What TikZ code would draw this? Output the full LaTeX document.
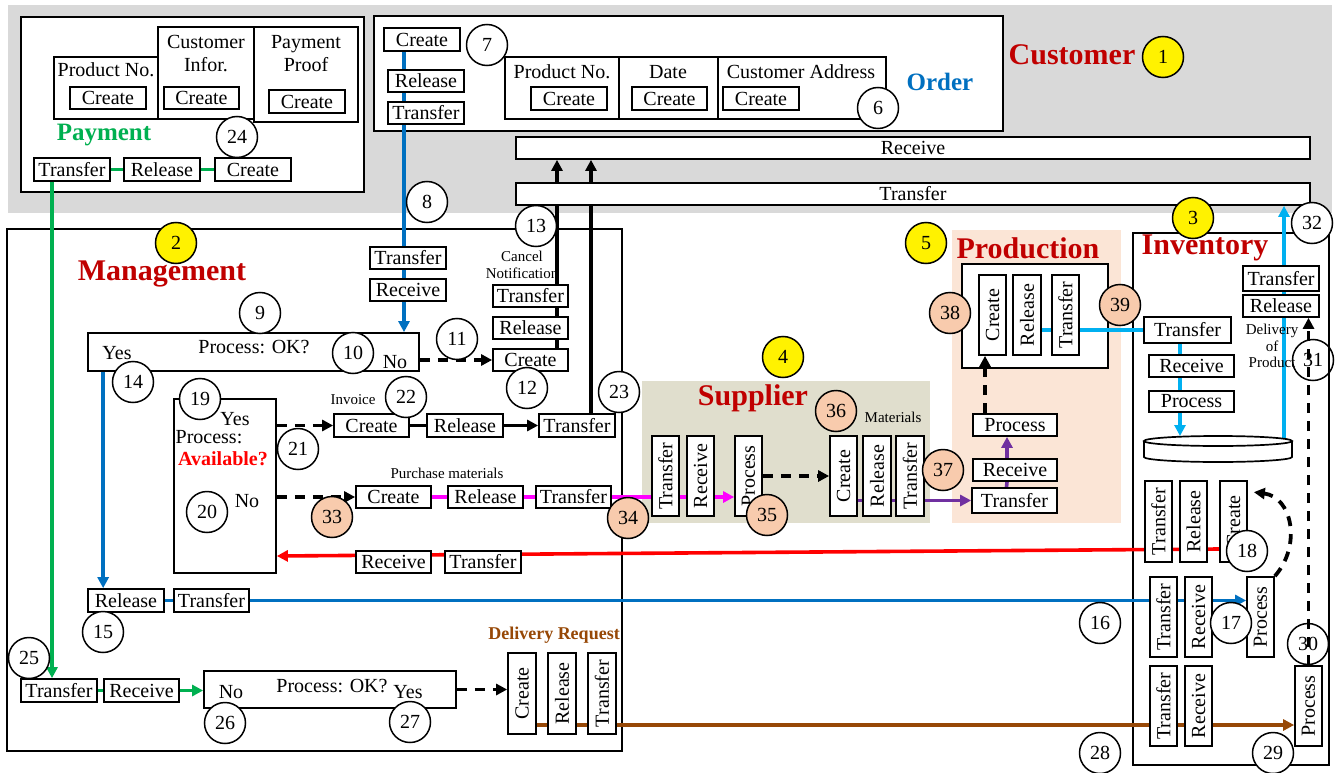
\documentclass[tikz,border=0pt]{standalone}
\usepackage{fontspec}
\setmainfont{Liberation Serif}
\usepackage{graphicx}
\usetikzlibrary{arrows.meta,calc}
\pgfdeclarelayer{bg}
\pgfdeclarelayer{lines}
\pgfsetlayers{bg,lines,main}
\definecolor{tred}{RGB}{192,0,0}
\definecolor{cgreen}{RGB}{0,176,80}
\definecolor{cblue}{RGB}{0,112,192}
\definecolor{ccyan}{RGB}{0,176,240}
\definecolor{cmag}{RGB}{255,0,255}
\definecolor{cpurple}{RGB}{112,48,160}
\definecolor{cbrown}{RGB}{151,72,6}
\definecolor{gbg}{RGB}{217,217,217}
\definecolor{supbg}{RGB}{224,222,205}
\definecolor{prodbg}{RGB}{251,229,214}
\definecolor{peach}{RGB}{248,203,173}
\newcommand\fsA{\fontsize{20}{23}\selectfont}
\newcommand\fsS{\fontsize{15}{16.5}\selectfont}
\newcommand\fsT{\fontsize{30}{32}\selectfont\bfseries}
\newcommand\fsP{\fontsize{25}{27}\selectfont\bfseries}
\newcommand\fsB{\fontsize{20}{22}\selectfont\bfseries}
\newcommand\fsD{\fontsize{18}{20}\selectfont\bfseries}
\tikzset{
 bx/.style={draw, line width=1.7pt, fill=white, inner sep=0pt, font=\fsA},
 frm/.style={draw, line width=1.7pt, fill=white},
 lbl/.style={inner sep=0pt, font=\fsA},
 sml/.style={inner sep=0pt, font=\fsS},
 ttl/.style={inner sep=0pt, font=\fsT, text=tred},
 cir/.style={circle, draw, line width=1.5pt, fill=white, minimum size=41pt, inner sep=0pt, font=\fsA},
 ocir/.style={cir, fill=none},
 ycir/.style={cir, fill=yellow},
 pcir/.style={cir, fill=peach},
 arr/.style={-{Triangle[length=11pt,width=11pt]}},
 gline/.style={draw=cgreen, line width=3.6pt},
 bline/.style={draw=cblue, line width=3.6pt},
 cline/.style={draw=ccyan, line width=3.6pt},
 mline/.style={draw=cmag, line width=3.6pt},
 pline/.style={draw=cpurple, line width=3.6pt},
 rline/.style={draw=red, line width=3.6pt},
 brline/.style={draw=cbrown, line width=3.6pt},
 kline/.style={draw=black, line width=3.6pt},
 dsh/.style={draw=black, line width=3.8pt, dash pattern=on 10pt off 8pt},
}
\newcommand\hb[6]{\node[bx,minimum width={#4-#2},minimum height={#5-#3}] (#1) at ({(#2+#4)/2},{(#3+#5)/2}) {#6};}
\newcommand\vb[6]{\node[bx,minimum width={#4-#2},minimum height={#5-#3}] (#1) at ({(#2+#4)/2},{(#3+#5)/2}) {\rotatebox{90}{#6}};}
\begin{document}
\begin{tikzpicture}[x=1pt,y=-1pt]
\useasboundingbox (0,0) rectangle (1338,773);
\begin{pgfonlayer}{bg}
 \fill[gbg] (8,5) rectangle (1332,213);
 \draw[frm] (21,17) rectangle (364,192);
 \draw[frm] (54,57) rectangle (158,119);
 \draw[frm] (158,27) rectangle (254,119);
 \draw[frm] (254,27) rectangle (358,122);
 \draw[frm] (374,16) rectangle (1003,131);
 \draw[frm] (505,57) rectangle (886,119);
 \draw[frm] (619,57) -- (619,119);
 \draw[frm] (718,57) -- (718,119);
 \draw[frm] (7,229) rectangle (622,751);
 \fill[supbg] (642,381) rectangle (930,523);
 \fill[prodbg] (952,230) rectangle (1121,523);
 \draw[frm] (962,264) rectangle (1108,368);
 \draw[frm] (1133,233) rectangle (1329,765);
\end{pgfonlayer}
% ---- Payment
\node[lbl] (tPN) at (106,70) {Product No.};
\node[lbl, align=center] (tCI) at (206,54) {Customer\\Infor.};
\node[lbl, align=center] (tPP) at (306,54) {Payment\\Proof};
\hb{pc1}{70}{87}{146}{109}{Create}
\hb{pc2}{164}{87}{239}{109}{Create}
\hb{pc3}{269}{90}{345}{113}{Create}
\node[lbl, font=\fsP, text=cgreen] (tPay) at (104,135) {Payment};
\hb{pT}{34}{158}{110}{181}{Transfer}
\hb{pR}{124}{158}{200}{181}{Release}
\hb{pC}{215}{158}{291}{181}{Create}
% ---- Order
\hb{oC}{384}{28}{460}{51}{Create}
\hb{oR}{388}{70}{464}{92}{Release}
\hb{oT}{388}{102}{464}{124}{Transfer}
\node[lbl] (tPN2) at (562,72) {Product No.};
\node[lbl] (tDate) at (668,72) {Date};
\node[lbl] (tCA) at (801,72) {Customer Address};
\hb{oc1}{531}{87}{607}{110}{Create}
\hb{oc2}{632}{87}{707}{110}{Create}
\hb{oc3}{723}{87}{799}{110}{Create}
\node[lbl, font=\fsP, text=cblue] (tOrd) at (940,82) {Order};
\node[ttl] (tCus) at (1072,55) {Customer};
\hb{recv}{516}{137}{1310}{159}{Receive}
\hb{trbar}{516}{183}{1310}{205}{Transfer}
% ---- Management
\node[ttl] (tMan) at (162,274) {Management};
\hb{mT}{370}{247}{446}{269}{Transfer}
\hb{mR}{370}{279}{446}{301}{Receive}
\node[sml, align=center] (tCan) at (522,265) {Cancel\\Notification};
\hb{cT}{493}{285}{568}{307}{Transfer}
\hb{cR}{493}{317}{568}{339}{Release}
\hb{cC}{493}{349}{568}{371}{Create}
\hb{ok1}{88}{333}{419}{371}{}
\node[lbl] (t9) at (254,347) {Process: OK?};
\node[lbl] (y1) at (117,353) {Yes};
\node[lbl] (n1) at (395,362) {No};
\hb{av}{174}{399}{276}{573}{}
\node[lbl] (y2) at (235,419) {Yes};
\node[lbl] (tPr) at (209,437) {Process:};
\node[lbl, font=\fsB, text=red] (tAv) at (223,459) {Available?};
\node[lbl] (n2) at (247,501) {No};
\node[sml] (tInv) at (353,400) {Invoice};
\hb{iC}{334}{414}{409}{437}{Create}
\hb{iR}{427}{414}{503}{437}{Release}
\hb{iT}{539}{414}{615}{437}{Transfer}
\node[sml] (tPM) at (447,473) {Purchase materials};
\hb{puC}{356}{486}{431}{508}{Create}
\hb{puR}{448}{486}{523}{508}{Release}
\hb{puT}{536}{486}{611}{508}{Transfer}
\hb{rR}{356}{551}{431}{573}{Receive}
\hb{rT}{445}{551}{521}{573}{Transfer}
\hb{bR}{88}{589}{164}{612}{Release}
\hb{bT}{174}{589}{249}{612}{Transfer}
\hb{gT}{21}{679}{97}{702}{Transfer}
\hb{gR}{104}{679}{179}{702}{Receive}
\hb{ok2}{204}{671}{456}{708}{}
\node[lbl] (t26) at (332,686) {Process: OK?};
\node[lbl] (n3) at (231,692) {No};
\node[lbl] (y3) at (408,692) {Yes};
\node[lbl, font=\fsD, text=cbrown] (tDR) at (554,635) {Delivery Request};
\vb{dC}{508}{653}{536}{734}{Create}
\vb{dR}{548}{653}{576}{734}{Release}
\vb{dT}{588}{653}{616}{734}{Transfer}
% ---- Supplier
\node[ttl] (tSup) at (753,398) {Supplier};
\node[sml] (tMat) at (893,417) {Materials};
\vb{sT}{652}{436}{679}{516}{Transfer}
\vb{sR}{687}{436}{714}{516}{Receive}
\vb{sP}{735}{436}{762}{516}{Process}
\vb{sC}{830}{436}{857}{516}{Create}
\vb{sRl}{863}{436}{891}{516}{Release}
\vb{sTr}{896}{436}{924}{516}{Transfer}
% ---- Production
\node[ttl] (tPro) at (1028,248) {Production};
\vb{prC}{979}{275}{1006}{355}{Create}
\vb{prR}{1013}{275}{1041}{355}{Release}
\vb{prT}{1052}{275}{1079}{355}{Transfer}
\hb{prP}{973}{414}{1057}{436}{Process}
\hb{prRc}{973}{459}{1057}{481}{Receive}
\hb{prTr}{972}{488}{1057}{513}{Transfer}
% ---- Inventory
\node[ttl] (tInvy) at (1205,248) {Inventory};
\hb{ivT}{1144}{317}{1231}{343}{Transfer}
\hb{ivR}{1149}{355}{1234}{377}{Receive}
\hb{ivP}{1149}{391}{1234}{412}{Process}
\draw[line width=1.7pt, fill=white] (1144,441) -- (1144,457) arc[start angle=180, end angle=360, x radius=74pt, y radius=5pt] -- (1292,441);
\draw[line width=1.7pt, fill=white] (1218,441) ellipse [x radius=74pt, y radius=5pt];
\coordinate (cylT) at (1218,436);
\coordinate (cylR) at (1284,441);
\hb{dlT}{1243}{266}{1319}{291}{Transfer}
\hb{dlR}{1243}{295}{1319}{317}{Release}
\node[sml, align=center] (tDel) at (1272,346) {Delivery\\of\\Product};
\vb{iT1}{1145}{481}{1172}{562}{Transfer}
\vb{iR1}{1180}{481}{1207}{562}{Release}
\vb{iC1}{1220}{481}{1247}{562}{Create}
\vb{iT2}{1150}{577}{1177}{657}{Transfer}
\vb{iR2}{1185}{577}{1212}{657}{Receive}
\vb{iP2}{1247}{577}{1274}{657}{Process}
\vb{iT3}{1150}{666}{1177}{746}{Transfer}
\vb{iR3}{1185}{666}{1212}{746}{Receive}
\vb{iP3}{1295}{666}{1322}{746}{Process}
% ---- connectors
\begin{pgfonlayer}{lines}
 \draw[gline, arr] ([xshift=-20pt]pT.south) -- ([xshift=-7pt]gT.north);
 \draw[gline] (pT.east) -- (pR.west) (pR.east) -- (pC.west);
 \draw[gline] (gT.east) -- (gR.west);
 \draw[gline, arr] (gR.east) -- (gR.east -| ok2.west);
 \draw[bline, arr] ([xshift=-18pt]oC.south) -- ([xshift=-18pt]oC.south |- ok1.north);
 \draw[bline, arr] ([xshift=16pt]ok1.south west) -- ([xshift=16pt]ok1.south west |- bR.north);
 \draw[bline] (bR.east) -- (bT.west);
 \draw[bline, arr] (bT.east) -- (bT.east -| iP2.west);
 \draw[kline, arr] ([xshift=26.5pt]cC.north) -- ([xshift=26.5pt]cC.north |- recv.south);
 \draw[kline, arr] ([xshift=14pt]iT.north) -- ([xshift=14pt]iT.north |- recv.south);
 \draw[dsh, arr] (ok1.east |- cC.west) -- (cC.west);
 \draw[dsh, arr] (av.east |- iC.west) -- (iC.west);
 \draw[kline] (iC.east) -- (iR.west);
 \draw[kline, arr] (iR.east) -- (iT.west);
 \draw[dsh, arr] (av.east |- puC.west) -- (puC.west);
 \draw[mline] (puC.east) -- (puR.west) (puR.east) -- (puT.west);
 \draw[mline, arr] (puT.east) -- (puT.east -| sP.west);
 \draw[dsh, arr] (sP.east) -- (sC.west);
 \draw[pline, arr] (sC.east |- prTr.west) -- (prTr.west);
 \draw[pline] ([xshift=-8pt]prTr.north) -- ([xshift=-8pt]prRc.south);
 \draw[pline, arr] ([xshift=-8pt]prRc.north) -- ([xshift=-8pt]prP.south);
 \draw[dsh, arr] ([xshift=-30pt]prP.north) -- ([xshift=-30pt]prP.north |- prC.south);
 \draw[cline] (ivT.west -| prR.east) -- (ivT.west);
 \draw[cline, arr] ([xshift=-7.5pt]ivT.south) -- ([xshift=-7.5pt]ivT.south |- cylT);
 \draw[cline, arr] (cylR) -- (cylR |- trbar.south);
 \draw[dsh, arr] (iP3.north) -- (iP3.north |- dlR.south);
 \draw[dsh, arr] (iP2.north east) .. controls (1302,545) and (1292,497) .. ([xshift=6pt,yshift=-12pt]iC1.north east);
 \draw[rline, arr] ([yshift=-27.5pt]iC1.west) -- ([yshift=-70pt]av.east);
 \draw[brline, arr] ([yshift=-31.5pt]dC.east) -- ([yshift=-31.5pt]dC.east -| iP3.west);
 \draw[dsh, arr] (ok2.east) -- (ok2.east -| dC.west);
\end{pgfonlayer}
% ---- circles
\node[ycir] (c1) at (1163,57) {1};
\node[ycir] (c2) at (176,243) {2};
\node[ycir] (c3) at (1193,218) {3};
\node[ycir] (c4) at (783,357) {4};
\node[ycir] (c5) at (926,243) {5};
\node[cir] (c6) at (878,108) {6};
\node[cir] (c7) at (487,45) {7};
\node[cir] (c8) at (427,202) {8};
\node[cir] (c9) at (260,313) {9};
\node[cir] (c10) at (353,353) {10};
\node[cir] (c11) at (457,339) {11};
\node[cir] (c12) at (527,388) {12};
\node[cir] (c13) at (536,226) {13};
\node[cir] (c14) at (133,382) {14};
\node[cir] (c15) at (103,632) {15};
\node[cir] (c16) at (1100,623) {16};
\node[cir] (c17) at (1231,623) {17};
\node[cir] (c18) at (1247,551) {18};
\node[cir] (c19) at (200,399) {19};
\node[cir] (c20) at (207,512) {20};
\node[cir] (c21) at (298,449) {21};
\node[cir] (c22) at (406,397) {22};
\node[cir] (c23) at (619,392) {23};
\node[cir] (c24) at (237,137) {24};
\node[cir] (c25) at (29,658) {25};
\node[cir] (c26) at (225,723) {26};
\node[cir] (c27) at (410,722) {27};
\node[cir] (c28) at (1100,753) {28};
\node[cir] (c29) at (1273,753) {29};
\node[ocir] (c30) at (1308,644) {30};
\node[ocir] (c31) at (1313,360) {31};
\node[cir] (c32) at (1312,223) {32};
\node[pcir] (c33) at (332,517) {33};
\node[pcir] (c34) at (628,518) {34};
\node[pcir] (c35) at (767,515) {35};
\node[pcir] (c36) at (836,411) {36};
\node[pcir] (c37) at (943,470) {37};
\node[pcir] (c38) at (950,313) {38};
\node[pcir] (c39) at (1120,305) {39};
\end{tikzpicture}
\end{document}
